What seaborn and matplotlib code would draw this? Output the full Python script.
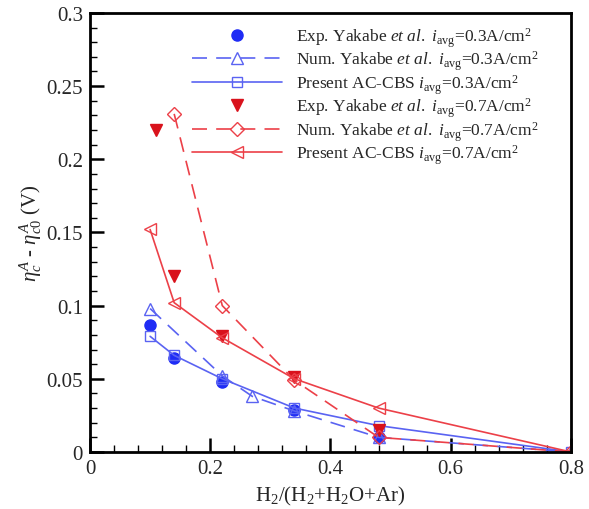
import matplotlib
matplotlib.use("Agg")
import matplotlib.pyplot as plt
import seaborn as sns
from matplotlib.ticker import MultipleLocator, FuncFormatter

sns.set_style("ticks")
plt.rcParams["font.family"] = ["Liberation Serif", "DejaVu Serif"]
plt.rcParams["mathtext.fontset"] = "custom"
plt.rcParams["mathtext.rm"] = "Liberation Serif"
plt.rcParams["mathtext.it"] = "Liberation Serif:italic"
plt.rcParams["mathtext.bf"] = "Liberation Serif:bold"

# i_avg = 0.3 A/cm2
exp03_x = [0.10, 0.14, 0.22, 0.34, 0.48]
exp03_y = [0.087, 0.064, 0.048, 0.029, 0.010]
num03_x = [0.10, 0.22, 0.27, 0.34, 0.48, 0.80]
num03_y = [0.098, 0.052, 0.038, 0.028, 0.010, 0.0]
pre03_x = [0.10, 0.14, 0.22, 0.34, 0.48, 0.80]
pre03_y = [0.079, 0.066, 0.050, 0.030, 0.018, 0.0]

# i_avg = 0.7 A/cm2
exp07_x = [0.11, 0.14, 0.22, 0.34, 0.48]
exp07_y = [0.220, 0.120, 0.079, 0.051, 0.015]
num07_x = [0.14, 0.22, 0.34, 0.48, 0.80]
num07_y = [0.231, 0.100, 0.049, 0.010, 0.0]
pre07_x = [0.10, 0.14, 0.22, 0.34, 0.48, 0.80]
pre07_y = [0.152, 0.102, 0.078, 0.050, 0.030, 0.0]

labels = [
    r"Exp. Yakabe $\mathit{et\ al.}$ $i_{\rm avg}$=0.3A/cm$^2$",
    r"Num. Yakabe $\mathit{et\ al.}$ $i_{\rm avg}$=0.3A/cm$^2$",
    r"Present AC-CBS $i_{\rm avg}$=0.3A/cm$^2$",
    r"Exp. Yakabe $\mathit{et\ al.}$ $i_{\rm avg}$=0.7A/cm$^2$",
    r"Num. Yakabe $\mathit{et\ al.}$ $i_{\rm avg}$=0.7A/cm$^2$",
    r"Present AC-CBS $i_{\rm avg}$=0.7A/cm$^2$",
]

blue_pt = "#1f2cf5"
blue_ln = "#5a63f2"
red_pt = "#d9121c"
red_ln = "#ec4048"

fig = plt.figure(figsize=(5.89, 5.10), dpi=100)
ax = fig.add_axes([0.1528, 0.1118, 0.8166, 0.861])

dash = (9, 5.5)
ms_open = 8

ax.plot(exp03_x, exp03_y, linestyle="none", marker="o", ms=8,
        color=blue_pt, label=labels[0])
sns.lineplot(x=num03_x, y=num03_y, ax=ax, sort=False, color=blue_ln,
             lw=1.2, linestyle=(0, dash), marker="^", ms=ms_open,
             mfc="none", mec=blue_ln, mew=1.0, label=labels[1])
sns.lineplot(x=pre03_x, y=pre03_y, ax=ax, sort=False, color=blue_ln,
             lw=1.2, marker="s", ms=ms_open - 1, mfc="none", mec=blue_ln,
             mew=1.0, label=labels[2])
ax.plot(exp07_x, exp07_y, linestyle="none", marker="v", ms=8,
        color=red_pt, label=labels[3])
sns.lineplot(x=num07_x, y=num07_y, ax=ax, sort=False, color=red_ln,
             lw=1.2, linestyle=(0, dash), marker="D", ms=ms_open - 1,
             mfc="none", mec=red_ln, mew=1.0, label=labels[4])
sns.lineplot(x=pre07_x, y=pre07_y, ax=ax, sort=False, color=red_ln,
             lw=1.2, marker="<", ms=ms_open, mfc="none", mec=red_ln,
             mew=1.0, label=labels[5])

ax.set_xlim(0, 0.8)
ax.set_ylim(0, 0.3)
ax.xaxis.set_major_locator(MultipleLocator(0.2))
ax.xaxis.set_minor_locator(MultipleLocator(0.04))
ax.yaxis.set_major_locator(MultipleLocator(0.05))
ax.yaxis.set_minor_locator(MultipleLocator(0.01))
fmt = FuncFormatter(lambda v, p: f"{round(v, 4):g}")
ax.xaxis.set_major_formatter(fmt)
ax.yaxis.set_major_formatter(fmt)
ax.tick_params(which="major", direction="in", length=10, width=1.8,
               labelsize=15, color="black", pad=5,
               bottom=True, left=True, top=False, right=False)
ax.tick_params(which="minor", direction="in", length=5, width=1.0,
               color="black", bottom=True, left=True, top=False, right=False)
for s in ax.spines.values():
    s.set_color("black")
    s.set_linewidth(2.0)

ax.set_xlabel(r"H$_2$/(H$_2$+H$_2$O+Ar)", fontsize=15, labelpad=4)
ax.set_ylabel(r"$\eta_c^A$ - $\eta_{c0}^A$ (V)", fontsize=15, labelpad=2)

h, l = ax.get_legend_handles_labels()
leg = ax.legend(h, l, loc="upper left", bbox_to_anchor=(0.212, 0.972),
                frameon=False, fontsize=12.5, handlelength=5.2,
                handletextpad=0.8, labelspacing=0.0, borderpad=0,
                borderaxespad=0)

fig.savefig("out.png", dpi=100, facecolor="white")
